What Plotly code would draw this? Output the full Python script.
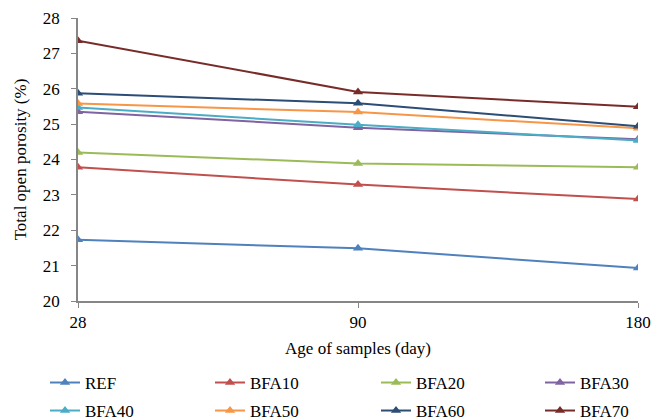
import plotly.graph_objects as go

ages = ["28", "90", "180"]
series_names = ["REF", "BFA10", "BFA20", "BFA30", "BFA40", "BFA50", "BFA60", "BFA70"]
REF = [21.73, 21.49, 20.93]
BFA10 = [23.78, 23.29, 22.88]
BFA20 = [24.2, 23.89, 23.78]
BFA30 = [25.35, 24.9, 24.57]
BFA40 = [25.47, 24.98, 24.54]
BFA50 = [25.58, 25.34, 24.88]
BFA60 = [25.87, 25.59, 24.94]
BFA70 = [27.36, 25.91, 25.49]
values = [REF, BFA10, BFA20, BFA30, BFA40, BFA50, BFA60, BFA70]
colors = ["#4F81BD", "#C0504D", "#9BBB59", "#8064A2", "#4BACC6", "#F79646", "#2C4D75", "#772C2A"]

font = "Liberation Serif, Times New Roman, serif"

# legend slot layout (4 columns x 2 rows)
legend_cols_px = [45, 210, 376, 540]
legend_rows_y = [-0.226, -0.325]
plot_left, plot_w = 78, 560

fig = go.Figure()
layout_legends = {}
for i, (name, vals, c) in enumerate(zip(series_names, values, colors)):
    key = "legend" if i == 0 else f"legend{i+1}"
    fig.add_trace(go.Scatter(
        x=ages, y=vals, name=name, mode="lines+markers",
        line=dict(color=c, width=2),
        marker=dict(symbol="triangle-up", size=9, color=c),
        legend=key,
    ))
    col, row = i % 4, i // 4
    layout_legends[key] = dict(
        x=(legend_cols_px[col] - plot_left) / plot_w, y=legend_rows_y[row],
        xanchor="left", yanchor="top", orientation="h",
        font=dict(family=font, size=17, color="black"),
        bgcolor="rgba(0,0,0,0)",
    )

fig.update_layout(
    width=663, height=420,
    margin=dict(l=78, r=25, t=18, b=119, autoexpand=False),
    plot_bgcolor="white", paper_bgcolor="white",
    font=dict(family=font, size=17, color="black"),
    showlegend=True,
    xaxis=dict(
        type="category", range=[0, 2],
        showline=True, linecolor="#868686", linewidth=1.5,
        ticks="outside", ticklen=5, tickcolor="#868686",
        showgrid=False, zeroline=False,
        title=dict(text="Age of samples (day)", font=dict(family=font, size=17), standoff=11),
    ),
    yaxis=dict(
        range=[20, 28], tickvals=list(range(20, 29)),
        showline=True, linecolor="#868686", linewidth=1.5,
        ticks="outside", ticklen=5, tickcolor="#868686",
        ticklabelstandoff=8,
        showgrid=False, zeroline=False,
        title=dict(text="Total open porosity (%)", font=dict(family=font, size=17), standoff=12),
    ),
    **layout_legends,
)

fig.write_html("out.html")
